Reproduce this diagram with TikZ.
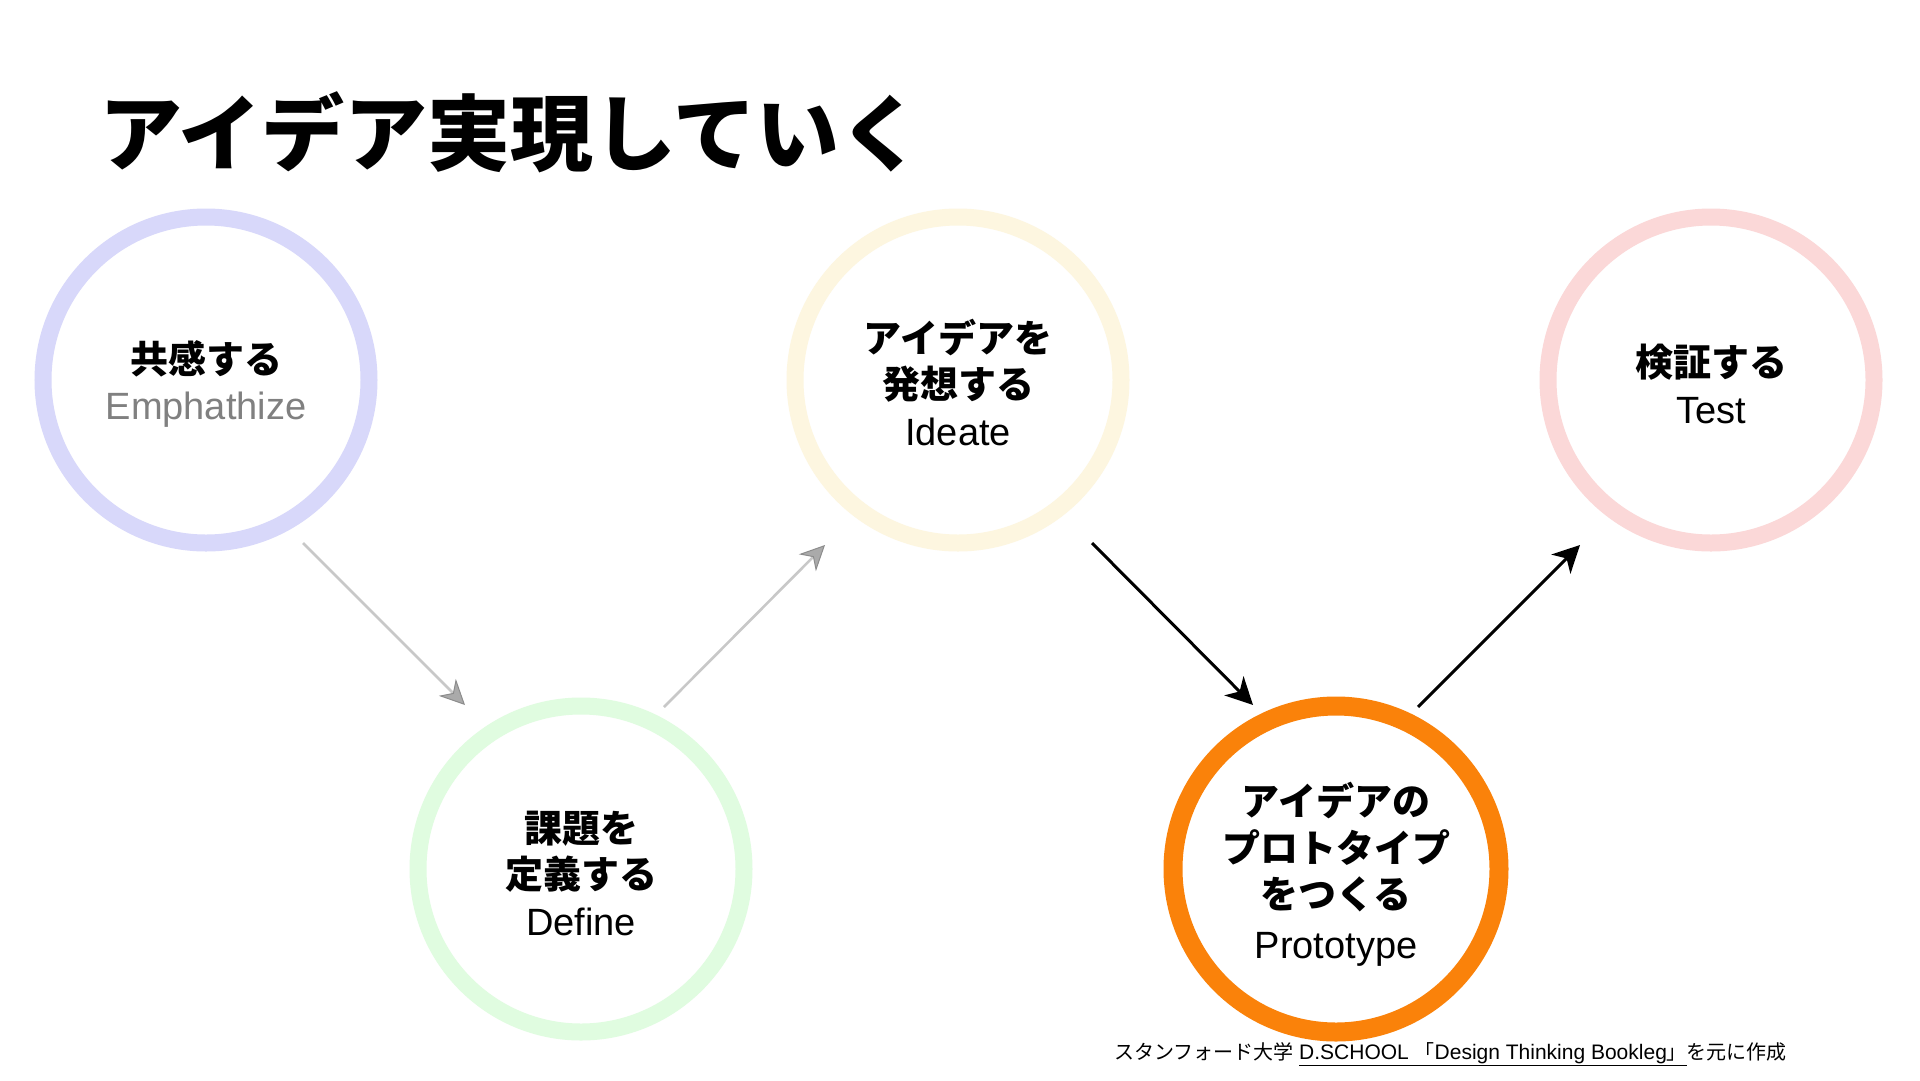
\documentclass[tikz,border=0pt]{standalone}
\usepackage{fontspec}
\setmainfont{Liberation Sans}
\newfontfamily\jp{Noto Sans CJK JP}
\usetikzlibrary{arrows.meta}
\definecolor{ringA}{RGB}{216,216,250}
\definecolor{ringB}{RGB}{224,252,224}
\definecolor{ringC}{RGB}{253,246,224}
\definecolor{ringD}{RGB}{250,130,10}
\definecolor{ringE}{RGB}{251,216,216}
\definecolor{arrgray}{RGB}{200,200,200}
\definecolor{txtgray}{RGB}{128,128,128}
\newcommand\jpbold[1]{{\jp\bfseries #1}}
\begin{document}
\begin{tikzpicture}[x=1pt,y=-1pt,
  ring/.style={circle, draw, line width=17pt, minimum size=326pt, inner sep=0pt, outer sep=0pt},
  ringtext/.style={align=center, inner sep=0pt, font=\fontsize{38}{46.5}\selectfont},
  grayarrow/.style={draw=arrgray, line width=2.6pt,
    -{Stealth[length=25pt,width=24pt,inset=8pt,fill=arrgray!85!black,color=arrgray!70!black,line width=1pt]}},
  blackarrow/.style={draw=black, line width=3pt,
    -{Stealth[length=27pt,width=27pt,inset=8pt]}}]
\useasboundingbox (0,0) rectangle (1920,1080);
\fill[white] (0,0) rectangle (1920,1080);

\node[anchor=west, font={\fontsize{83}{96}\jp\bfseries}] (title) at (96,132) {アイデア実現していく};

\node[ring, draw=ringA] (c1) at (206,380) {};
\node[ring, draw=ringB] (c2) at (581,869) {};
\node[ring, draw=ringC] (c3) at (958,380) {};
\node[ring, draw=ringD, line width=19pt] (c4) at (1336,869) {};
\node[ring, draw=ringE] (c5) at (1711,380) {};

\node[ringtext] (t1) at ([yshift=-4pt]c1.center) {\jpbold{共感する}\\{\color{txtgray}Emphathize}};
\node[ringtext] (t2) at ([yshift=-4pt]c2.center) {\jpbold{課題を}\\\jpbold{定義する}\\Define};
\node[ringtext] (t3) at ([yshift=-2pt]c3.center) {\jpbold{アイデアを}\\\jpbold{発想する}\\Ideate};
\node[ringtext] (t4) at ([yshift=-5pt]c4.center) {\jpbold{アイデアの}\\\jpbold{プロトタイプ}\\\jpbold{をつくる}\\[3pt]Prototype};
\node[ringtext] (t5) at ([yshift=-4pt]c5.center) {\jpbold{検証する}\\Test};

\coordinate (s1) at (303,543); \coordinate (e1) at (465,705);
\coordinate (s2) at (664,707); \coordinate (e2) at (825,545);
\coordinate (s3) at (1092,543); \coordinate (e3) at (1253,705);
\coordinate (s4) at (1418,707); \coordinate (e4) at (1580,545);
\draw[grayarrow] (s1) -- (e1);
\draw[grayarrow] (s2) -- (e2);
\draw[blackarrow] (s3) -- (e3);
\draw[blackarrow] (s4) -- (e4);

\node[anchor=base west, inner sep=0pt, font=\fontsize{20}{24}\selectfont] (note) at (1114,1059)
  {{\jp スタンフォード大学} \underline{{\fontsize{21}{24}\selectfont D.SCHOOL }{\jp 「}{\fontsize{21}{24}\selectfont Design Thinking Bookleg}{\jp 」}}{\jp を元に作成}};
\end{tikzpicture}
\end{document}
